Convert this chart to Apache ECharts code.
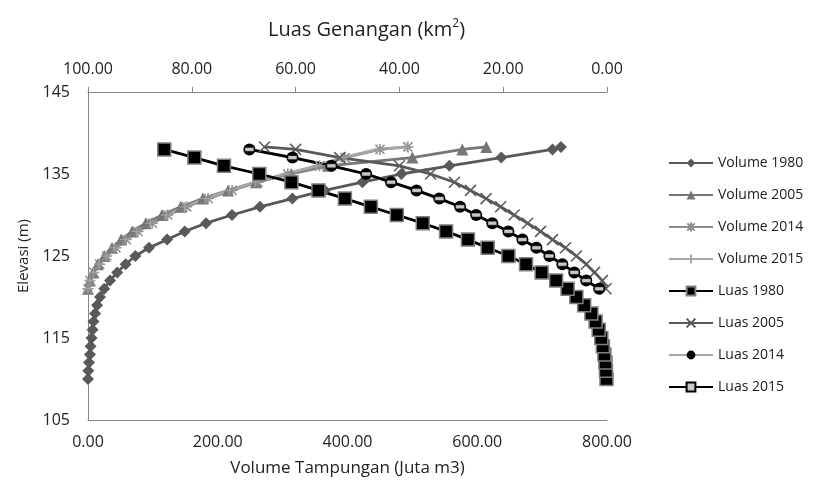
<!DOCTYPE html>
<html style="height: 100%">
   <head>
       <meta charset="utf-8">
   </head>
   <body style="height: 100%; margin: 0">
       <div id="container" style="width: 826px; height: 482px"></div>
       <script type="text/javascript" src="https://cdn.jsdelivr.net/npm/echarts@6/dist/echarts.min.js"></script>
       <script type="text/javascript">
// elevasi (m)
var elev1980 = [110,111,112,113,114,115,116,117,118,119,120,121,122,123,124,125,126,127,128,129,130,131,132,133,134,135,136,137,138];
var elevVol1980 = elev1980.concat([138.3]);
var elevNew = [121,122,123,124,125,126,127,128,129,130,131,132,133,134,135,136,137,138];
var elevVolNew = elevNew.concat([138.3]);

// volume tampungan (juta m3)
var vol1980 = [0,0.5,1.5,3,4,5.5,7,8.5,11,14,18.5,25,34,45,58,73,94,122,149,182,222,265,315,365,423,483,557,637,716,729];
var vol2005 = [0,3,8,15,25,37,51,68,89,114,143,177,216,259,313,370,500,577,614];
var vol2014 = [0,3,9,18,29,43,59,77,99,123,152,185,222,262,308,357,396,450,493];
var vol2015 = [0,3,8,17,28,41,57,75,96,120,149,181,218,258,303,352,392,446,490];

// luas genangan (km2)
var luas1980 = [0.1,0.2,0.3,0.5,0.8,1.1,1.6,2.2,3.0,4.4,5.9,7.6,9.8,12.6,15.6,19.0,23.0,26.8,31.0,35.5,40.5,45.5,50.5,55.6,60.8,67.0,73.8,79.5,85.3];
var luas2005 = [0.2,0.9,2.4,4.0,5.9,8.0,10.5,12.8,15.3,17.9,20.5,23.3,26.3,29.4,34.0,40.0,51.5,60.0,66.0];
var luas2014 = [1.5,4.0,6.3,8.6,11.1,13.6,16.3,19.0,22.1,25.2,28.3,32.3,36.7,41.6,46.4,53.1,60.6,68.9];
var luas2015 = [1.5,4.0,6.3,8.6,11.1,13.6,16.3,19.0,22.1,25.2,28.3,32.3,36.7,41.6,46.4,53.1,60.6,68.9];

function pairs(xs, ys){
  var out = [];
  for (var i = 0; i < xs.length; i++) out.push([xs[i], ys[i]]);
  return out;
}

var symX = 'path://M0,0L10,10M10,0L0,10';
var symStar = 'path://M0,0L10,10M10,0L0,10M5,-1L5,11M-1,5L11,5';
var symPlus = 'path://M5,0L5,10M0,5L10,5';

var dom = document.getElementById("container");
var myChart = echarts.init(dom);

var font = 'Open Sans';

function mkSeries(name, axis, data, color, symbol, size, style){
  return {
    name: name, type: 'line', xAxisIndex: axis, yAxisIndex: 0,
    data: data, symbol: symbol, symbolSize: size,
    lineStyle: { color: color, width: 2.8 },
    itemStyle: style,
    animation: false
  };
}

option = {
    backgroundColor: '#fff',
    textStyle: { fontFamily: font },
    title: {
        text: 'Luas Genangan (km{sup|2})',
        left: 263, top: 13,
        textStyle: { fontSize: 20, fontWeight: 'normal', color: '#222', fontFamily: font,
          rich: { sup: { fontSize: 12, verticalAlign: 'bottom', padding: [0,0,13,0], color: '#222', fontFamily: font } } }
    },
    grid: { left: 88, right: 219, top: 92, bottom: 55 },
    legend: {
        orient: 'vertical', left: 663, top: 151,
        itemWidth: 44, itemHeight: 11, itemGap: 18,
        textStyle: { fontSize: 14, color: '#222', fontFamily: font },
        data: ['Volume 1980','Volume 2005','Volume 2014','Volume 2015','Luas 1980','Luas 2005','Luas 2014','Luas 2015']
    },
    xAxis: [
      {
        type: 'value', position: 'bottom', min: 0, max: 800, interval: 200,
        name: 'Volume Tampungan (Juta m3)', nameLocation: 'middle', nameGap: 40,
        nameTextStyle: { fontSize: 17, color: '#222' },
        axisLine: { lineStyle: { color: '#868686' } },
        axisTick: { show: false },
        splitLine: { show: false },
        axisLabel: { fontSize: 16, color: '#222', margin: 14, formatter: function(v){ return v.toFixed(2); } }
      },
      {
        type: 'value', position: 'top', min: 0, max: 100, interval: 20, inverse: true,
        axisLine: { lineStyle: { color: '#868686' } },
        axisTick: { show: true, length: 5, lineStyle: { color: '#868686' } },
        splitLine: { show: false },
        axisLabel: { fontSize: 16, color: '#222', margin: 15, formatter: function(v){ return v.toFixed(2); } }
      }
    ],
    yAxis: {
        type: 'value', min: 105, max: 145, interval: 10,
        name: 'Elevasi (m)', nameLocation: 'middle', nameGap: 36, nameRotate: 90,
        nameTextStyle: { fontSize: 15, color: '#222' },
        axisLine: { show: true, lineStyle: { color: '#868686' } },
        axisTick: { show: false },
        splitLine: { show: false },
        axisLabel: { fontSize: 16, color: '#222', margin: 18 }
    },
    series: [
      mkSeries('Volume 1980', 0, pairs(vol1980, elevVol1980), '#595959', 'diamond', 12, { color: '#595959' }),
      mkSeries('Volume 2005', 0, pairs(vol2005, elevVolNew), '#767676', 'triangle', 12, { color: '#767676' }),
      mkSeries('Volume 2014', 0, pairs(vol2014, elevVolNew), '#8c8c8c', symStar, 11, { color: '#8c8c8c', borderColor: '#8c8c8c', borderWidth: 1.5 }),
      mkSeries('Volume 2015', 0, pairs(vol2015, elevVolNew), '#a6a6a6', symPlus, 10, { color: '#a6a6a6', borderColor: '#a6a6a6', borderWidth: 1 }),
      mkSeries('Luas 1980', 1, pairs(luas1980, elev1980), '#000', 'rect', 13, { color: '#000', borderColor: '#808080', borderWidth: 1.5 }),
      mkSeries('Luas 2005', 1, pairs(luas2005, elevVolNew), '#595959', symX, 11, { color: '#595959', borderColor: '#595959', borderWidth: 1.5 }),
      mkSeries('Luas 2014', 1, pairs(luas2014, elevNew), '#a6a6a6', 'circle', 12, { color: '#000' }),
      mkSeries('Luas 2015', 1, pairs(luas2015, elevNew), '#000', 'rect', [9,4], { color: '#c8c8c8', borderColor: '#000', borderWidth: 0.5 })
    ]
};

if (option && typeof option === "object") {
    myChart.setOption(option, true);
}
       </script>
   </body>
</html>
